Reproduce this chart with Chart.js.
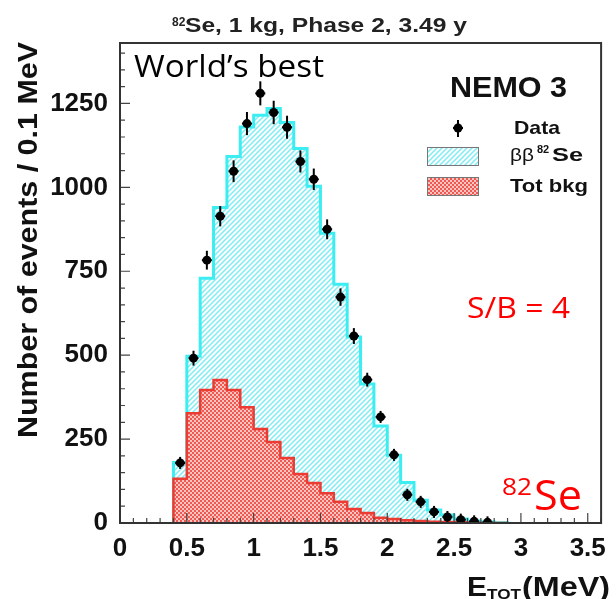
<!DOCTYPE html>
<html>
<head>
<meta charset="utf-8">
<script src="https://cdn.jsdelivr.net/npm/chart.js@4.4.1/dist/chart.umd.min.js"></script>
<style>
  body { margin: 0; background: #fff; }
  #wrap { width: 616px; height: 599px; }
</style>
</head>
<body>
<div id="wrap"><canvas id="nemo"></canvas></div>
<script>
// 0.1 MeV bins, lower edges + last upper edge
var binEdges = [0.4, 0.5, 0.6, 0.7, 0.8, 0.9, 1.0, 1.1, 1.2, 1.3, 1.4, 1.5, 1.6,
  1.7, 1.8, 1.9, 2.0, 2.1, 2.2, 2.3, 2.4, 2.5, 2.6, 2.7, 2.8, 2.9];
// MC total (bb 82Se + bkg) and total background, events per bin
var totalMC = [180, 497, 729, 940, 1092, 1180, 1215, 1235, 1193, 1116, 1003, 863, 711,
  554, 414, 289, 202, 121, 68, 39, 24, 12, 6, 3, 1];
var bkg = [132, 327, 396, 426, 396, 345, 280, 241, 194, 146, 119, 89, 63,
  42, 30, 16, 12, 8, 6, 4, 3, 2, 1, 0, 0];
// data points (bin centres)
var dataE = [0.45, 0.55, 0.65, 0.75, 0.85, 0.95, 1.05, 1.15, 1.25, 1.35, 1.45, 1.55,
  1.65, 1.75, 1.85, 1.95, 2.05, 2.15, 2.25, 2.35, 2.45, 2.55, 2.65, 2.75];
var dataCounts = [179, 491, 783, 914, 1048, 1190, 1280, 1223, 1179, 1077, 1024, 875,
  673, 557, 427, 316, 203, 84, 63, 33, 18, 10, 5, 2];
var xTicks = [0, 0.5, 1, 1.5, 2, 2.5, 3, 3.5];
var yTicks = [0, 250, 500, 750, 1000, 1250];

var canvas = document.getElementById("nemo");
var c2d = canvas.getContext("2d");

// step outline points for a histogram
function histPoints(edges, vals) {
  var pts = [{ x: edges[0], y: 0 }];
  for (var i = 0; i < vals.length; i++) pts.push({ x: edges[i], y: vals[i] });
  pts.push({ x: edges[vals.length], y: 0 });
  return pts;
}

function cyanHatch() {
  var c = document.createElement("canvas");
  c.width = 5; c.height = 5;
  var g = c.getContext("2d");
  g.fillStyle = "#ffffff"; g.fillRect(0, 0, 5, 5);
  g.strokeStyle = "#7eecf2"; g.lineWidth = 1.5;
  g.beginPath();
  g.moveTo(0, 5); g.lineTo(5, 0);
  g.moveTo(-1, 1); g.lineTo(1, -1);
  g.moveTo(4, 6); g.lineTo(6, 4);
  g.stroke();
  return c2d.createPattern(c, "repeat");
}

function redDots() {
  var c = document.createElement("canvas");
  c.width = 4; c.height = 4;
  var g = c.getContext("2d");
  g.fillStyle = "#fbc4c0"; g.fillRect(0, 0, 4, 4);
  g.fillStyle = "#ee5a52";
  g.fillRect(0, 0, 2, 2); g.fillRect(2, 2, 2, 2);
  return c2d.createPattern(c, "repeat");
}

var cyanFill = cyanHatch();
var redFill = redDots();

var errRadius = function (ctx) {
  var s = ctx.chart.scales.y;
  var v = ctx.raw.y;
  var e = Math.sqrt(v);
  return Math.max(6, (s.getPixelForValue(v - e) - s.getPixelForValue(v + e)) / 2);
};

function txt(ctx, s, x, y, font, color, w) {
  ctx.font = font;
  ctx.fillStyle = color;
  ctx.textAlign = "left";
  ctx.textBaseline = "alphabetic";
  var m = ctx.measureText(s).width;
  ctx.save();
  ctx.translate(x, y);
  if (w) ctx.scale(w / m, 1);
  ctx.fillText(s, 0, 0);
  ctx.restore();
}

var decor = {
  id: "decor",
  afterDraw: function (chart) {
    var ctx = chart.ctx;
    var a = chart.chartArea;
    var xs = chart.scales.x, ys = chart.scales.y;
    ctx.save();
    // inner ticks
    ctx.strokeStyle = "#444";
    ctx.lineWidth = 1.2;
    ctx.beginPath();
    for (var i = 0; i <= 28; i++) {
      var py = ys.getPixelForValue(i * 50);
      var l = (i % 5 === 0) ? 10 : 5;
      ctx.moveTo(a.left, py); ctx.lineTo(a.left + l, py);
    }
    for (var j = 0; j <= 36; j++) {
      var px = xs.getPixelForValue(j / 10);
      var lx = (j % 5 === 0) ? 10 : 5;
      ctx.moveTo(px, a.bottom); ctx.lineTo(px, a.bottom - lx);
    }
    ctx.stroke();
    // frame
    ctx.strokeStyle = "#333";
    ctx.lineWidth = 2;
    ctx.strokeRect(a.left, a.top, a.right - a.left, a.bottom - a.top);

    // title
    txt(ctx, "82", 172, 26, "bold 12px 'Liberation Sans'", "#222");
    txt(ctx, "Se, 1 kg, Phase 2, 3.49 y", 185, 32, "bold 20px 'Liberation Sans'", "#222", 282);

    // annotations
    txt(ctx, "World\u2019s best", 134, 77, "31px 'Open Sans'", "#000", 190);
    txt(ctx, "NEMO 3", 450, 97, "bold 30px 'Liberation Sans'", "#111", 117);

    // legend
    ctx.fillStyle = "#000";
    ctx.beginPath(); ctx.arc(458, 128, 4.5, 0, Math.PI * 2); ctx.fill();
    ctx.strokeStyle = "#000"; ctx.lineWidth = 2;
    ctx.beginPath();
    ctx.moveTo(458, 120); ctx.lineTo(458, 137);
    ctx.moveTo(453, 128); ctx.lineTo(463, 128);
    ctx.stroke();
    txt(ctx, "Data", 514, 134, "bold 19px 'Liberation Sans'", "#111", 46);

    ctx.fillStyle = cyanFill;
    ctx.fillRect(427, 147, 52, 19);
    ctx.strokeStyle = "#777"; ctx.lineWidth = 1;
    ctx.strokeRect(427.5, 147.5, 51, 18);
    txt(ctx, "\u03b2\u03b2", 510, 161, "19px 'Liberation Sans'", "#111", 24);
    txt(ctx, "82", 537, 153, "bold 11px 'Liberation Sans'", "#111");
    txt(ctx, "Se", 552, 161, "bold 19px 'Liberation Sans'", "#111", 31);

    ctx.fillStyle = redFill;
    ctx.fillRect(427, 177, 52, 19);
    ctx.strokeStyle = "#777";
    ctx.strokeRect(427.5, 177.5, 51, 18);
    txt(ctx, "Tot bkg", 510, 192, "bold 19px 'Liberation Sans'", "#111", 78);

    txt(ctx, "S/B = 4", 467, 318, "30px 'Open Sans'", "#ff0000", 103);
    txt(ctx, "82", 502, 495, "24px 'Open Sans'", "#ff0000", 30);
    txt(ctx, "Se", 534, 510, "42px 'Open Sans'", "#ff0000", 48);

    // axis titles
    txt(ctx, "E", 467, 596, "bold 27px 'Liberation Sans'", "#111", 20);
    txt(ctx, "TOT", 487, 599, "bold 15px 'Liberation Sans'", "#111", 34);
    txt(ctx, "(MeV)", 522, 596, "bold 27px 'Liberation Sans'", "#111", 88);

    ctx.save();
    ctx.translate(37, 438);
    ctx.rotate(-Math.PI / 2);
    txt(ctx, "Number of events / 0.1 MeV", 0, 0, "bold 27px 'Liberation Sans'", "#111", 396);
    ctx.restore();

    ctx.restore();
  }
};

var tickFont = { family: "'Liberation Sans'", weight: "bold", size: 26 };
var plainLabel = function (v) { return String(v); };

var nemoChart = new Chart(c2d, {
  type: "line",
  data: {
    datasets: [
      {
        label: "Data",
        data: dataE.map(function (e, i) { return { x: e, y: dataCounts[i] }; }),
        showLine: false,
        pointStyle: "circle",
        pointRadius: 4.5,
        pointBackgroundColor: "#000",
        pointBorderWidth: 0,
        order: 0,
      },
      {
        label: "err",
        data: dataE.map(function (e, i) { return { x: e, y: dataCounts[i] }; }),
        showLine: false,
        pointStyle: "line",
        pointRotation: 90,
        pointRadius: errRadius,
        pointBorderColor: "#000",
        pointBorderWidth: 2,
        order: 0,
      },
      {
        label: "errx",
        data: dataE.map(function (e, i) { return { x: e, y: dataCounts[i] }; }),
        showLine: false,
        pointStyle: "line",
        pointRadius: 5,
        pointBorderColor: "#000",
        pointBorderWidth: 2,
        order: 0,
      },
      {
        label: "Tot bkg",
        data: histPoints(binEdges, bkg),
        stepped: true,
        fill: "origin",
        backgroundColor: redFill,
        borderColor: "#ec3b33",
        borderWidth: 2.5,
        pointRadius: 0,
        order: 1,
      },
      {
        label: "bb 82Se",
        data: histPoints(binEdges, totalMC),
        stepped: true,
        fill: "origin",
        backgroundColor: cyanFill,
        borderColor: "#3ceef2",
        borderWidth: 3,
        pointRadius: 0,
        order: 2,
      },
    ],
  },
  options: {
    responsive: true,
    maintainAspectRatio: false,
    animation: false,
    layout: { padding: { top: 43, right: 6, left: 0, bottom: 0 } },
    plugins: {
      legend: { display: false },
      tooltip: { enabled: false },
    },
    scales: {
      x: {
        type: "linear",
        min: 0,
        max: 3.6,
        afterBuildTicks: function (s) { s.ticks = xTicks.map(function (v) { return { value: v }; }); },
        afterFit: function (s) { s.height = 76; },
        grid: { display: false, drawTicks: false },
        border: { display: false },
        ticks: { padding: 10, color: "#111", font: tickFont, maxRotation: 0, autoSkip: false, callback: plainLabel },
      },
      y: {
        min: 0,
        max: 1430,
        afterBuildTicks: function (s) { s.ticks = yTicks.map(function (v) { return { value: v }; }); },
        afterFit: function (s) { s.width = 120; },
        grid: { display: false, drawTicks: false },
        border: { display: false },
        ticks: { padding: 12, color: "#111", font: tickFont, autoSkip: false, callback: plainLabel },
      },
    },
  },
  plugins: [decor],
});
</script>
</body>
</html>
